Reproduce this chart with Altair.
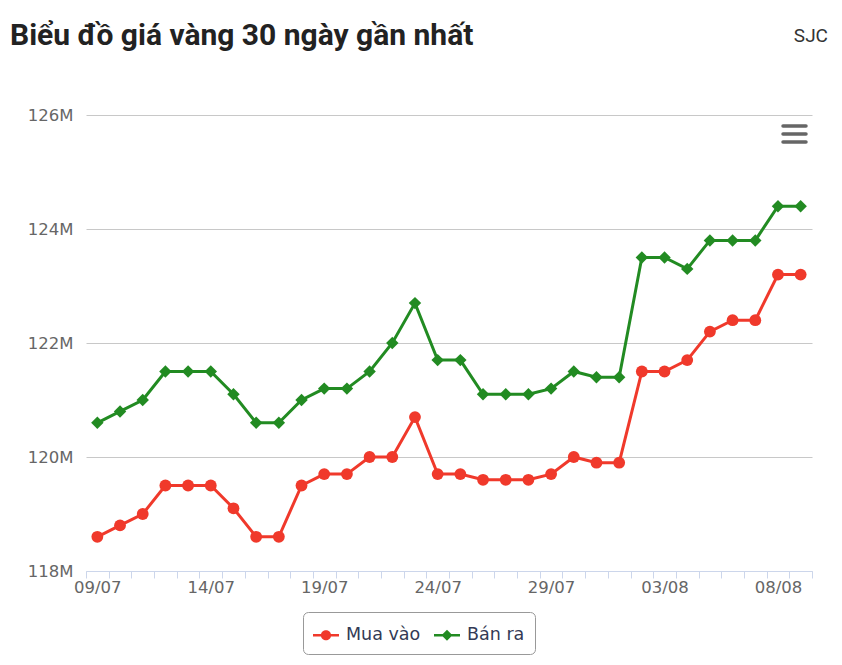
import altair as alt
import pandas as pd

dates = ["09/07", "10/07", "11/07", "12/07", "13/07", "14/07", "15/07", "16/07",
         "17/07", "18/07", "19/07", "20/07", "21/07", "22/07", "23/07", "24/07",
         "25/07", "26/07", "27/07", "28/07", "29/07", "30/07", "31/07", "01/08",
         "02/08", "03/08", "04/08", "05/08", "06/08", "07/08", "08/08", "09/08"]
mua_vao = [118.6, 118.8, 119.0, 119.5, 119.5, 119.5, 119.1, 118.6, 118.6, 119.5,
           119.7, 119.7, 120.0, 120.0, 120.7, 119.7, 119.7, 119.6, 119.6, 119.6,
           119.7, 120.0, 119.9, 119.9, 121.5, 121.5, 121.7, 122.2, 122.4, 122.4,
           123.2, 123.2]
ban_ra = [120.6, 120.8, 121.0, 121.5, 121.5, 121.5, 121.1, 120.6, 120.6, 121.0,
          121.2, 121.2, 121.5, 122.0, 122.7, 121.7, 121.7, 121.1, 121.1, 121.1,
          121.2, 121.5, 121.4, 121.4, 123.5, 123.5, 123.3, 123.8, 123.8, 123.8,
          124.4, 124.4]
series_names = ["Mua vào", "Bán ra"]
series_colors = ["#f0392b", "#228b22"]
shown_labels = ["09/07", "14/07", "19/07", "24/07", "29/07", "03/08", "08/08"]
y_ticks = [118, 120, 122, 124, 126]
title_text = "Biểu đồ giá vàng 30 ngày gần nhất"
brand_text = "SJC"

rows = []
for d, m, b in zip(dates, mua_vao, ban_ra):
    rows.append({"date": d, "series": series_names[0], "price": m})
    rows.append({"date": d, "series": series_names[1], "price": b})
df = pd.DataFrame(rows)

W, H = 726, 456
AXIS_FONT = "DejaVu Sans"

x_enc = alt.X(
    "date:O", sort=dates,
    scale=alt.Scale(paddingInner=0, paddingOuter=0),
    axis=alt.Axis(
        title=None, labelAngle=0, tickBand="extent", grid=False,
        domainColor="#ccd6eb", tickColor="#ccd6eb", tickSize=7,
        labelFont=AXIS_FONT, labelFontSize=16.5, labelColor="#666666",
        labelPadding=1, labelOverlap=False,
        labelExpr="indexof(" + str(shown_labels) + ", datum.label) >= 0 ? datum.label : ''",
    ),
)
y_enc = alt.Y(
    "price:Q",
    scale=alt.Scale(domain=[118, 126], nice=False, zero=False),
    axis=alt.Axis(
        title=None, values=y_ticks, domain=False, ticks=False,
        gridColor="#c8c8c8", gridWidth=1,
        labelFont=AXIS_FONT, labelFontSize=16.5, labelColor="#666666",
        labelPadding=13, labelExpr="datum.value + 'M'",
    ),
)

red_sym = "M-1,-0.1L1,-0.1L1,0.1L-1,0.1Z M-0.39,0C-0.39,-0.52,0.39,-0.52,0.39,0C0.39,0.52,-0.39,0.52,-0.39,0Z"
green_sym = "M-1,-0.1L1,-0.1L1,0.1L-1,0.1Z M0,-0.42L0.42,0L0,0.42L-0.42,0Z"

legend_props = dict(
    title=None, orient="none", legendX=217, legendY=497, direction="horizontal",
    strokeColor="#999999", cornerRadius=5, padding=10, fillColor="white",
    symbolSize=676, symbolOpacity=1, symbolStrokeWidth=0,
    labelFont=AXIS_FONT, labelFontSize=17.5, labelColor="#333a55",
    labelOffset=7, columnPadding=13,
)

color_enc = alt.Color("series:N", sort=series_names,
                      scale=alt.Scale(domain=series_names, range=series_colors),
                      legend=alt.Legend(**legend_props))
shape_enc = alt.Shape("series:N", sort=series_names,
                      scale=alt.Scale(domain=series_names, range=[red_sym, green_sym]),
                      legend=alt.Legend(**legend_props))

base = alt.Chart(df)

lines = base.mark_line(strokeWidth=3).encode(x=x_enc, y=y_enc, color=color_enc)
circles = base.transform_filter(alt.datum.series == series_names[0]).mark_point(
    shape="circle", filled=True, size=140, opacity=1
).encode(x=x_enc, y=y_enc, color=color_enc)
diamonds = base.transform_filter(alt.datum.series == series_names[1]).mark_point(
    shape="diamond", filled=True, size=155, opacity=1
).encode(x=x_enc, y=y_enc, color=color_enc)
legend_shapes = base.mark_point(filled=True, opacity=0).encode(
    x=x_enc, y=y_enc, color=color_enc, shape=shape_enc
)

title_layer = alt.Chart(alt.Data(values=[{"t": title_text}])).mark_text(
    font="Roboto", fontSize=30, fontWeight="bold", color="#222222",
    align="left", baseline="alphabetic",
).encode(text="t:N", x=alt.value(-76), y=alt.value(-70))

brand_layer = alt.Chart(alt.Data(values=[{"t": brand_text}])).mark_text(
    font="Roboto", fontSize=19, color="#333333",
    align="right", baseline="alphabetic",
).encode(text="t:N", x=alt.value(742), y=alt.value(-73))

menu_layers = [
    alt.Chart(alt.Data(values=[{"k": 0}])).mark_rule(
        color="#666666", strokeWidth=3.5, strokeCap="round"
    ).encode(x=alt.value(697), x2=alt.value(720), y=alt.value(yy))
    for yy in (11, 19, 27)
]

chart = alt.layer(
    legend_shapes, lines, circles, diamonds, title_layer, brand_layer, *menu_layers
).properties(
    width=W, height=H,
    autosize=alt.AutoSizeParams(type="none"),
    padding={"left": 78, "top": 107, "right": 22, "bottom": 86},
).configure_view(
    stroke=None
)

chart.save("out.html", embed_options={"renderer": "svg", "actions": False})
